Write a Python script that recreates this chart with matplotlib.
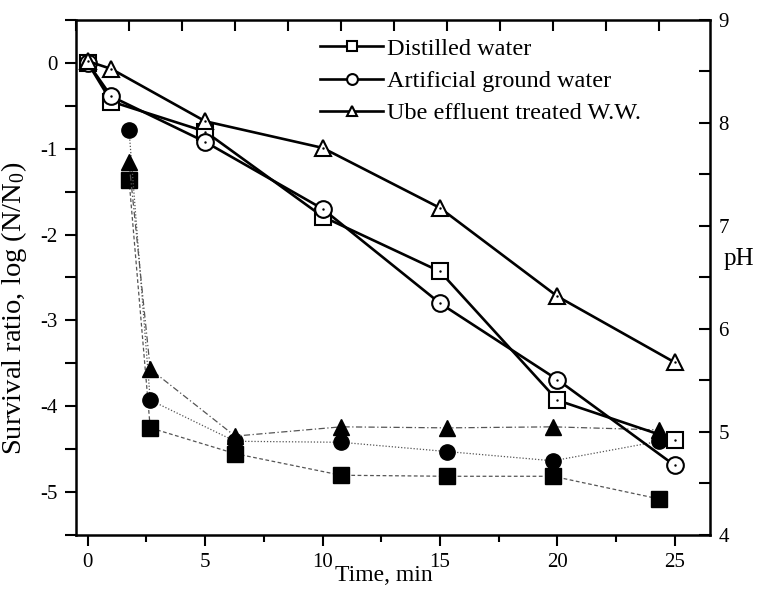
import matplotlib
matplotlib.use("Agg")
import matplotlib.pyplot as plt
from matplotlib.ticker import MultipleLocator, NullFormatter

plt.rcParams["font.family"] = ["Liberation Serif", "DejaVu Serif"]
plt.rcParams["mathtext.fontset"] = "custom"
plt.rcParams["mathtext.rm"] = "Liberation Serif"
plt.rcParams["mathtext.it"] = "Liberation Serif:italic"
plt.rcParams["axes.unicode_minus"] = False

# survival ratio, log(N/N0) vs time (bottom axis)
time = [0, 1, 5, 10, 15, 20, 25]
distilled = [0.0, -0.45, -0.80, -1.79, -2.43, -3.93, -4.39]
ground = [0.0, -0.39, -0.92, -1.70, -2.80, -3.69, -4.69]
ube = [0.02, -0.07, -0.68, -0.99, -1.69, -2.72, -3.49]

# pH vs time (top axis, own scale)
ph_time = [0, 1, 5, 10, 15, 20, 25]
ph_distilled = [7.45, 5.04, 4.79, 4.58, 4.57, 4.57, 4.35]
ph_ground = [7.93, 5.31, 4.91, 4.90, 4.81, 4.72, 4.91]
ph_ube = [7.62, 5.61, 4.96, 5.05, 5.04, 5.05, 5.02]

labels = ["Distilled water", "Artificial ground water", "Ube effluent treated W.W."]
markers = ["s", "o", "^"]

fig = plt.figure(figsize=(7.58, 5.89), dpi=100)
pos = [0.1003, 0.0917, 0.8364, 0.8744]
axp = fig.add_axes(pos, frameon=False)
ax = fig.add_axes(pos)
ax.patch.set_visible(False)

# pH series: filled markers, thin broken lines
ph_styles = [(0, (3, 2)), (0, (1, 1.5)), (0, (5, 2, 1, 2))]
for y, m, ls in zip([ph_distilled, ph_ground, ph_ube], markers, ph_styles):
    axp.plot(ph_time, y, color="#555555", lw=0.9, ls=ls)
    axp.plot(ph_time, y, ls="none", marker=m, ms=11, color="black")

axp.set_xlim(-2.5, 27.4)
axp.set_ylim(4, 9)
axp.xaxis.tick_top()
axp.yaxis.tick_right()
axp.xaxis.set_major_locator(MultipleLocator(2.5))
axp.xaxis.set_major_formatter(NullFormatter())
axp.yaxis.set_major_locator(MultipleLocator(1))
axp.yaxis.set_minor_locator(MultipleLocator(0.5))
axp.tick_params(which="both", direction="in", length=8, width=1.5, labelsize=15, pad=6)
axp.text(1.045, 0.535, "pH", transform=axp.transAxes, fontsize=18,
         ha="center", va="center")

# survival ratio series: open markers, solid lines
handles = []
for y, m, lab in zip([distilled, ground, ube], markers, labels):
    h, = ax.plot(time, y, color="black", lw=1.9, marker=m, ms=12, mfc="white",
                 mec="black", mew=1.5, label=lab)
    ax.plot(time, y, ls="none", marker=".", ms=1.5, color="black")
    handles.append(h)

ax.set_xlim(-0.5, 26.5)
ax.set_ylim(-5.5, 0.5)
ax.xaxis.set_major_locator(MultipleLocator(5))
ax.xaxis.set_minor_locator(MultipleLocator(2.5))
ax.yaxis.set_major_locator(MultipleLocator(1))
ax.yaxis.set_minor_locator(MultipleLocator(0.5))
ax.tick_params(which="both", direction="out", top=False, right=False,
               width=1.5, labelsize=15)
ax.tick_params(which="major", length=8, pad=5)
ax.tick_params(axis="x", which="minor", length=5)
ax.tick_params(axis="y", which="minor", length=8)
for s in ax.spines.values():
    s.set_linewidth(1.8)

ax.set_xlabel("Time, min", fontsize=17, labelpad=-4)
ax.xaxis.set_label_coords(0.485, -0.058)
ax.set_ylabel("Survival ratio, log (N/N$_0$)", fontsize=20.5)
ax.yaxis.set_label_coords(-0.074, 0.44)

ax.legend(handles=handles, loc="upper left", bbox_to_anchor=(0.385, 0.965),
          frameon=False, fontsize=17.5, handlelength=2.6, handletextpad=0.15,
          labelspacing=0.42, markerscale=0.65, borderpad=0, borderaxespad=0)

fig.savefig("out.png", dpi=100)
